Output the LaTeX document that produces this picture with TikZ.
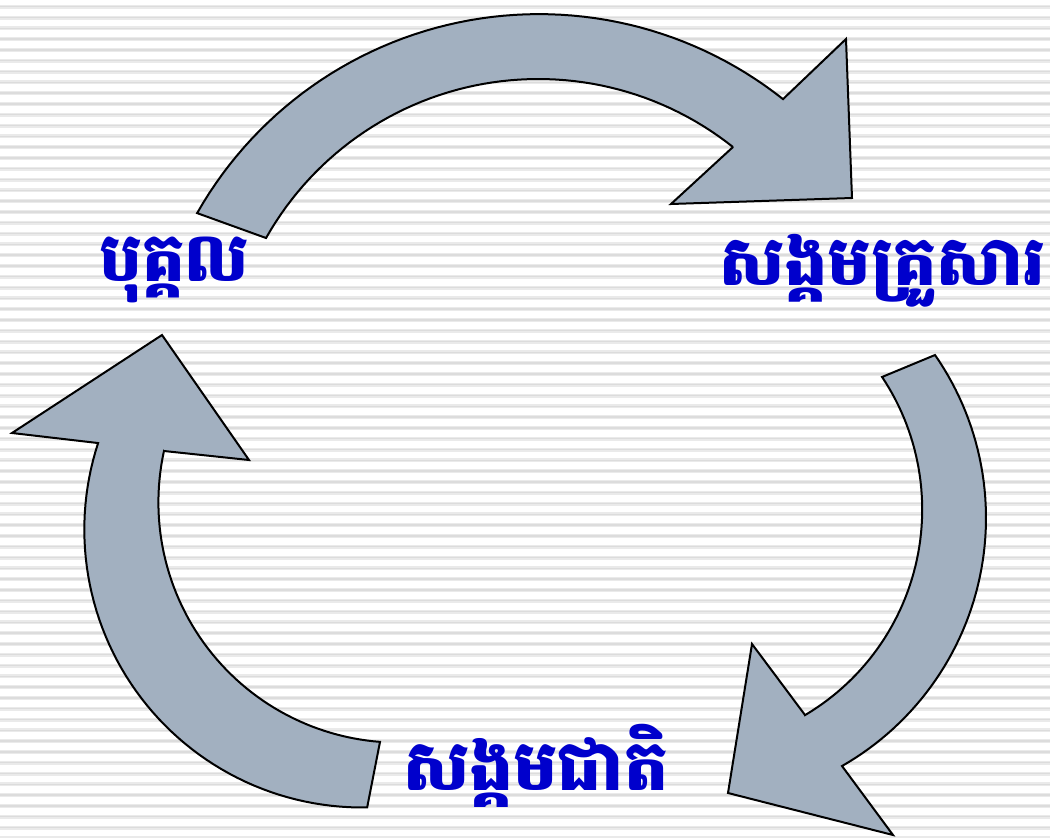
\documentclass[tikz,border=0pt]{standalone}
\usepackage{fontspec}
\newfontfamily\khmer[Script=Khmer]{Battambang}
\definecolor{arrowgray}{RGB}{162,176,192}
\definecolor{khblue}{RGB}{0,0,204}
\definecolor{stripeA}{RGB}{234,234,234}
\definecolor{stripeB}{RGB}{220,220,220}
\tikzset{
  arrowshape/.style={fill=arrowgray, draw=black, line width=2pt, line join=miter},
  stripeouter/.style={draw=stripeA, line width=4pt},
  stripeinner/.style={draw=stripeB, line width=1.5pt},
  label/.style={inner sep=0pt, text=khblue, font=\khmer\bfseries},
}
\begin{document}
\begin{tikzpicture}[x=1pt,y=-1pt]
\useasboundingbox (0,0) rectangle (1050,838);
\fill[white] (0,0) rectangle (1050,838);
% background stripes
\foreach \i in {0,...,77}{
  \draw[stripeouter] (0,{6.7+10.8*\i}) -- (1050,{6.7+10.8*\i});
  \draw[stripeinner] (0,{6.7+10.8*\i}) -- (1050,{6.7+10.8*\i});
}
% ---- top arrow (person -> family)
\coordinate (tOutNotch) at (783,99);
\coordinate (tBarbOut) at (846,39);
\coordinate (tTip) at (852,198);
\coordinate (tBarbIn) at (671,204);
\coordinate (tInNotch) at (733,147);
\filldraw[arrowshape]
  plot[domain=-150.42:-51.6, samples=60, variable=\t] ({538.9+393*cos(\t)},{407.1+393*sin(\t)})
  -- (tBarbOut) -- (tTip) -- (tBarbIn) -- (tInNotch)
  -- plot[domain=-51.48:-150.57, samples=60, variable=\t] ({538.3+312.6*cos(\t)},{391.6+312.6*sin(\t)})
  -- cycle;
% ---- right arrow (family -> nation)
\coordinate (rBarbOut) at (893,835);
\coordinate (rTip) at (728,793);
\coordinate (rBarbIn) at (752,644);
\coordinate (rInNotch) at (805,715);
\filldraw[arrowshape]
  plot[domain=-34.75:60.25, samples=60, variable=\t] ({700.2+285.8*cos(\t)},{517.9+285.8*sin(\t)})
  -- (rBarbOut) -- (rTip) -- (rBarbIn) -- (rInNotch)
  -- plot[domain=59.35:-33.68, samples=60, variable=\t] ({683.2+239*cos(\t)},{509.5+239*sin(\t)})
  -- cycle;
% ---- left arrow (nation -> person)
\coordinate (lBarbOut) at (12,433);
\coordinate (lTip) at (162,335);
\coordinate (lBarbIn) at (249,460);
\coordinate (lInNotch) at (164,451);
\filldraw[arrowshape]
  plot[domain=89:198.12, samples=60, variable=\t] ({362.3+278*cos(\t)},{529.5+278*sin(\t)})
  -- (lBarbOut) -- (lTip) -- (lBarbIn) -- (lInNotch)
  -- plot[domain=192.36:94.44, samples=60, variable=\t] ({398.6+240.2*cos(\t)},{502.4+240.2*sin(\t)})
  -- cycle;
% ---- labels
\node[label, anchor=base west] (person) at (99,281) {\resizebox{150pt}{!}{បុគ្គល}};
\node[label, anchor=base west] (family) at (719,285) {\resizebox{326pt}{!}{សង្គមគ្រួសារ}};
\node[label, anchor=base west] (nation) at (403,790) {\resizebox{265pt}{!}{សង្គមជាតិ}};
\end{tikzpicture}
\end{document}
